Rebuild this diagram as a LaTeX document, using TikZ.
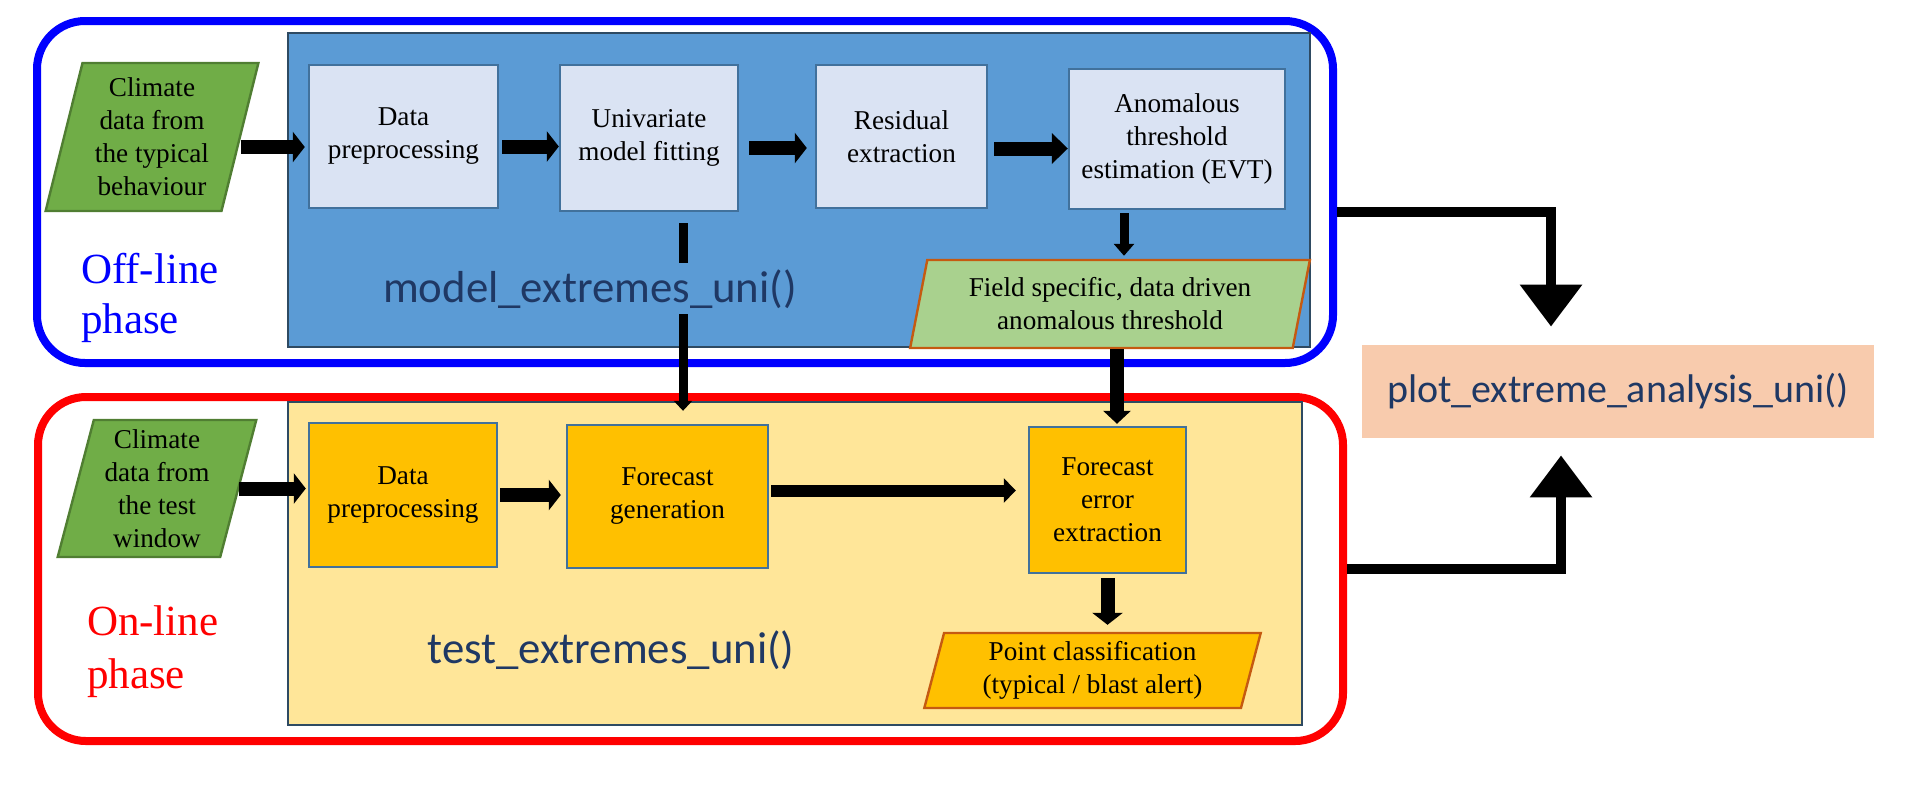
\documentclass[tikz,border=0pt]{standalone}
\usepackage{fontspec}
\setmainfont{Liberation Serif}
\newfontfamily\funcfont{Carlito}
\usetikzlibrary{
    positioning,
    calc,
    shapes.geometric,
    arrows.meta
}
\definecolor{ModelFill}{HTML}{5B9BD5}
\definecolor{StepFill}{HTML}{DAE3F3}
\definecolor{StepLine}{HTML}{41719C}
\definecolor{FrameLine}{HTML}{2E4A62}
\definecolor{DataGreen}{HTML}{70AD47}
\definecolor{DataGreenLine}{HTML}{507E32}
\definecolor{ThreshGreen}{HTML}{A9D18E}
\definecolor{OutputLine}{HTML}{C55A11}
\definecolor{TestFill}{HTML}{FFE699}
\definecolor{TestStep}{HTML}{FFC000}
\definecolor{PlotFill}{HTML}{F8CBAD}
\definecolor{FuncText}{HTML}{1F3864}

\begin{document}
\begin{tikzpicture}[
    x=0.5pt, y=-0.5pt,
    txt/.style={font=\fontsize{13.6}{16.5}\selectfont, align=center},
    stepbox/.style={txt, draw=StepLine, line width=1.2pt, inner sep=2pt},
    inbox/.style={trapezium, trapezium stretches=true, txt, line width=1.2pt, inner sep=1pt},
    flow/.style={line width=7pt, -{Triangle[width=15pt,length=6pt]}},
    bigflow/.style={line width=5pt, line join=miter, -{Triangle[width=30pt,length=21pt]}},
    func/.style={font=\funcfont\fontsize{22.4}{26}\selectfont, text=FuncText}
]
                \useasboundingbox (0,0) rectangle (1920,784);

                % phase frames
                \node[
                    draw=blue,
                    line width=4pt,
                    rounded corners=24pt,
                    minimum width=648pt,
                    minimum height=171pt
                ] (offline) at (685,192) {};
                \node[
                    draw=red,
                    line width=4pt,
                    rounded corners=24pt,
                    minimum width=652.5pt,
                    minimum height=172pt
                ] (online) at (690.5,569) {};

                % function containers
                \node[fill=ModelFill, draw=FrameLine, line width=1.3pt,
                    minimum width=511pt, minimum height=157pt] (model) at (799,190) {};
                \node[fill=TestFill, draw=FrameLine, line width=1.3pt,
                    minimum width=507pt, minimum height=161.5pt] (test) at (795,563.5) {};
                \node[fill=PlotFill, func, font=\funcfont\fontsize{20}{24}\selectfont,
                    minimum width=256pt, minimum height=46.5pt] (plot) at (1618,391.5) {plot\_extreme\_analysis\_uni()};

                % off-line phase
                \node[inbox, fill=DataGreen, draw=DataGreenLine,
                    trapezium left angle=75.6, trapezium right angle=104.4,
                    minimum width=107pt, minimum height=74pt] (typ) at (152,137) {Climate\\data from\\the typical\\behaviour};
                \node[stepbox, fill=StepFill, minimum width=94.5pt, minimum height=71.5pt] (dp1) at (403.5,136.5) {Data\\preprocessing};
                \node[stepbox, fill=StepFill, minimum width=89pt, minimum height=73pt] (uf) at (649,138) {Univariate\\model fitting};
                \node[stepbox, fill=StepFill, minimum width=85.5pt, minimum height=71.5pt] (re) at (901.5,136.5) {Residual\\extraction};
                \node[stepbox, fill=StepFill, minimum width=108pt, minimum height=70pt] (at) at (1177,139) {Anomalous\\threshold\\estimation (EVT)};
                \node[inbox, fill=ThreshGreen, draw=OutputLine,
                    trapezium left angle=76.6, trapezium right angle=103.4,
                    minimum width=200pt, minimum height=44pt] (thr) at (1110,304) {Field specific, data driven\\anomalous threshold};

                % on-line phase
                \node[inbox, fill=DataGreen, draw=DataGreenLine,
                    trapezium left angle=75.7, trapezium right angle=104.3,
                    minimum width=100pt, minimum height=68.5pt] (win) at (157,488.5) {Climate\\data from\\the test\\window};
                \node[stepbox, fill=TestStep, minimum width=94pt, minimum height=72pt] (dp2) at (403,495) {Data\\preprocessing};
                \node[stepbox, fill=TestStep, minimum width=100.5pt, minimum height=71.5pt] (fg) at (667.5,496.5) {Forecast\\generation};
                \node[stepbox, fill=TestStep, minimum width=78.5pt, minimum height=73pt] (fe) at (1107.5,500) {Forecast\\error\\extraction};
                \node[inbox, fill=TestStep, draw=OutputLine,
                    trapezium left angle=76.5, trapezium right angle=103.5,
                    minimum width=168.5pt, minimum height=37.5pt] (pc) at (1092.5,670.5) {Point classification\\(typical / blast alert)};

                % phase names
                \node[font=\fontsize{21.5}{25}\selectfont, text=blue, align=left, anchor=west] (offname) at (74,298) {Off-line\\phase};
                \node[font=\fontsize{21.5}{26.5}\selectfont, text=red, align=left, anchor=west] (onname) at (80,652) {On-line\\phase};

                % connectors
                \coordinate (linkA) at (683,0);
                \coordinate (linkB) at (1124,0);
                \coordinate (linkC) at (1117,0);

                \draw[flow, shorten >=1.5pt] ([yshift=-5pt]typ.east) -- ([yshift=-5pt]typ.east -| dp1.west);
                \draw[flow, shorten <=1.5pt] ([yshift=-5pt]dp1.east) -- ([yshift=-5pt]dp1.east -| uf.west);
                \draw[flow, shorten <=5pt, shorten >=4pt] ([yshift=-5pt]uf.east) -- ([yshift=-5pt]uf.east -| re.west);
                \draw[flow, shorten <=3pt, -{Triangle[width=15pt,length=8pt]}] ([yshift=-6pt]re.east) -- ([yshift=-6pt]re.east -| at.west);
                \draw[flow, line width=4.5pt, -{Triangle[width=10pt,length=6pt]}, shorten <=1.5pt, shorten >=1.5pt]
                    (at.south -| linkB) -- (thr.north -| linkB);

                \draw[flow, shorten >=1pt] (win.east) -- (win.east -| dp2.west);
                \draw[flow, shorten <=1pt, shorten >=2.5pt] (dp2.east) -- (dp2.east -| fg.west);
                \draw[flow, line width=6pt, -{Triangle[width=12pt,length=6pt]}, shorten <=1pt, shorten >=6pt]
                    ([yshift=3pt]fg.east) -- ([yshift=3pt]fg.east -| fe.west);
                \draw[flow, shorten <=2pt, shorten >=3.5pt] (fe.south) -- (fe.south |- pc.north);

                \draw[flow, line width=4.5pt, -{Triangle[width=9pt,length=5pt]}, shorten <=5.5pt, shorten >=6.5pt]
                    (uf.south -| linkA) -- (fg.north -| linkA);
                \draw[flow, -{Triangle[width=13.5pt,length=6.5pt]}, shorten >=1pt]
                    (thr.south -| linkC) -- (fe.north -| linkC);

                \draw[bigflow, shorten >=9pt] ([yshift=-10pt]offline.east) -| ([xshift=-33.5pt]plot.north);
                \draw[bigflow, shorten >=8.5pt] (online.east) -| ([xshift=-28.5pt]plot.south);

                % function names
                \node[func, fill=ModelFill, inner sep=3pt, anchor=base] (modelname) at (590,302) {model\_extremes\_uni()};
                \node[func, anchor=base] (testname) at (611,663) {test\_extremes\_uni()};
\end{tikzpicture}
\end{document}
